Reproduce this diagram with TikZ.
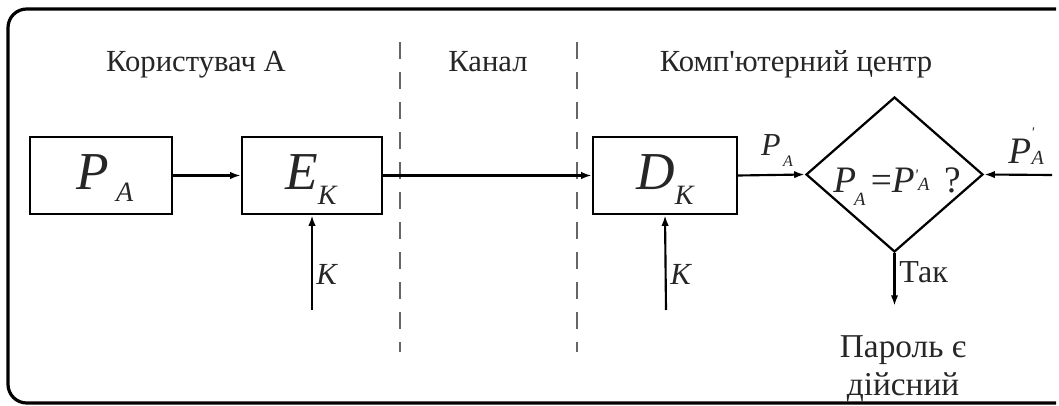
\documentclass[tikz,border=0pt]{standalone}
\usepackage{fontspec}
\setmainfont{Liberation Serif}
\usetikzlibrary{arrows.meta,shapes.geometric}
\newcommand\fs[1]{\fontsize{#1}{#1}\selectfont}
\tikzset{
  blk/.style={draw=black, line width=1.7pt, rectangle, inner sep=0pt, minimum height=57.75pt},
  arr/.style={line width=1.6pt, -{Latex[length=8pt,width=5.5pt]}},
  sep/.style={draw=black!60, line width=2pt, dash pattern=on 13pt off 9.5pt},
  head/.style={font=\fs{23}, inner sep=0pt, text=black!85, anchor=base},
  lab/.style={inner sep=0pt, text=black!85},
}
\begin{document}
\begin{tikzpicture}[x=0.75pt,y=-0.75pt]
\useasboundingbox (0,0) rectangle (1059,406);
% frame
\draw[line width=2.4pt, rounded corners=14pt] (1056,9) -- (8,9) -- (8,403) -- (1056,403);
% headings
\node[head] (h1) at (196,72) {Користувач А};
\node[head] (h2) at (488,72) {Канал};
\node[head] (h3) at (796,72) {Комп\textquotesingle ютерний центр};
% separators
\coordinate (s1t) at (400,42); \coordinate (s1b) at (400,352);
\coordinate (s2t) at (577,42); \coordinate (s2b) at (577,352);
\draw[sep] (s1t) -- (s1b);
\draw[sep] (s2t) -- (s2b);
% boxes
\node[blk, minimum width=106.5pt] (pa) at (101,175.5) {};
\node[blk, minimum width=105pt] (ek) at (312,175.5) {};
\node[blk, minimum width=108pt] (dk) at (665,175.5) {};
\node[lab, anchor=base] (pat) at (105,190) {\fs{40}\itshape P\hspace{5pt}\raisebox{-9pt}{\fs{21}A}};
\node[lab, anchor=base] (ekt) at (311,190) {\fs{40}\itshape E\hspace{0pt}\raisebox{-10.5pt}{\fs{21}K}};
\node[lab, anchor=base] (dkt) at (665,190) {\fs{40}\itshape D\hspace{0pt}\raisebox{-10.5pt}{\fs{21}K}};
% diamond
\node[draw=black, line width=1.7pt, diamond, inner sep=0pt, minimum width=132.75pt, minimum height=116.25pt] (cmp) at (894.5,174.5) {};
\node[lab, anchor=base] (cmpt) at (897,192) {\fs{28}\itshape P\hspace{-1.5pt}\raisebox{-10pt}{\fs{14}A}\hspace{4pt}\upshape=\itshape P\raisebox{9pt}{\fs{12}\textquotesingle}\hspace{0pt}\raisebox{1pt}{\fs{14}A}\hspace{11pt}\upshape ?};
% connectors
\draw[arr] (pa) -- (ek);
\draw[arr] (ek) -- (dk);
\coordinate (k1) at (312,310);
\coordinate (k2) at (666,310);
\draw[arr] (k1) -- (ek.south);
\draw[arr] (k2) -- (dk.south);
\node[lab, anchor=base west] (k1l) at (316,284) {\fs{23}\itshape K};
\node[lab, anchor=base west] (k2l) at (670,284) {\fs{23}\itshape K};
\draw[arr] (dk.east) -- (cmp.west);
\node[lab, anchor=base] (pal) at (777,156) {\fs{24}\itshape P\hspace{2pt}\raisebox{-8pt}{\fs{12}A}};
\coordinate (pin) at (1052,175);
\draw[arr] (pin) -- (cmp.east);
\node[lab, anchor=base] (ppl) at (1026,163) {\fs{28}\itshape P\raisebox{19pt}{\fs{11}\textquotesingle}\hspace{-2pt}\raisebox{-1.5pt}{\fs{15}A}};
\coordinate (out) at (894.5,306);
\draw[arr] (cmp.south) -- (out);
\node[lab, anchor=base west] (yes) at (899,282) {\fs{24}Так};
\node[lab, align=center, font=\fontsize{25}{28.5}\selectfont, anchor=north] (res) at (903,335) {Пароль є\\дійсний};
\end{tikzpicture}
\end{document}
